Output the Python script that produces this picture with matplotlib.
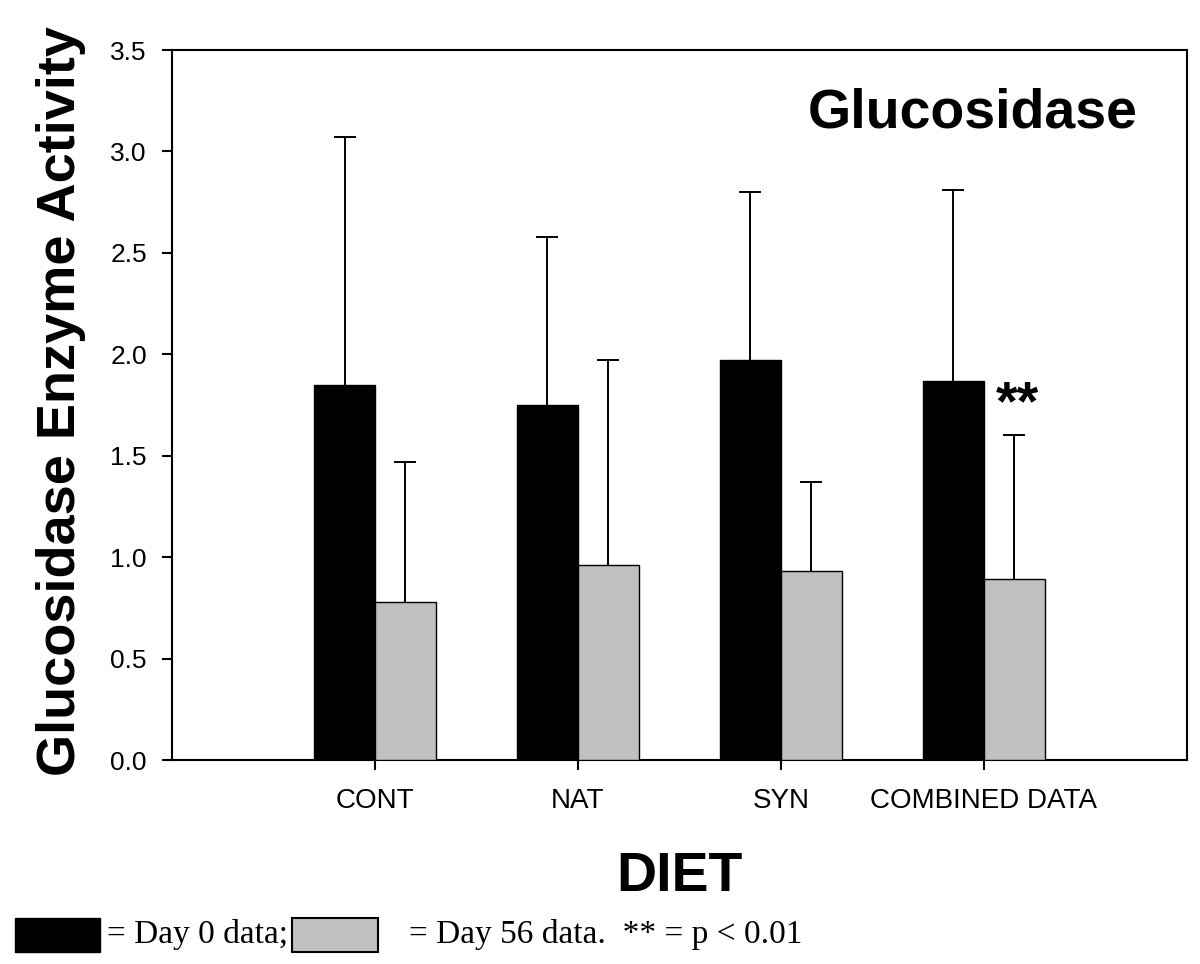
import numpy as np
import matplotlib.pyplot as plt
from matplotlib.patches import Rectangle

# Data
diets = ["CONT", "NAT", "SYN", "COMBINED DATA"]
day0_mean = [1.85, 1.75, 1.97, 1.87]
day0_err = [1.22, 0.83, 0.83, 0.94]
day56_mean = [0.78, 0.96, 0.93, 0.89]
day56_err = [0.69, 1.01, 0.44, 0.71]

plt.rcParams['font.family'] = ['Liberation Sans', 'DejaVu Sans']

fig = plt.figure(figsize=(12, 9.64), dpi=100)
ax = fig.add_axes([0.1433, 0.2116, 0.8458, 0.7365])

x = np.arange(len(diets))
w = 0.3

ax.bar(x - w / 2, day0_mean, w, color="black", edgecolor="black", linewidth=1, zorder=3)
ax.bar(x + w / 2, day56_mean, w, color="#c0c0c0", edgecolor="black", linewidth=1, zorder=3)

# one-sided (upward) error bars, lower caps hidden
for xs, m, e in [(x - w / 2, day0_mean, day0_err), (x + w / 2, day56_mean, day56_err)]:
    eb = ax.errorbar(xs, m, yerr=[np.zeros(len(m)), e], fmt="none",
                     ecolor="black", elinewidth=1.4, capsize=8, capthick=1.4, zorder=2)
    eb[1][0].set_visible(False)

ax.set_xlim(-1, 4)
ax.set_ylim(0, 3.5)
ticks = np.arange(0, 3.51, 0.5)
ax.set_yticks(ticks)
ax.set_yticklabels([f"{v:.1f}" for v in ticks])
ax.set_xticks(x)
ax.set_xticklabels(diets)

for s in ax.spines.values():
    s.set_linewidth(1.5)
ax.tick_params(axis="y", direction="out", length=7, width=1.5, labelsize=19, pad=11)
ax.tick_params(axis="x", direction="out", length=7, width=1.5, labelsize=20, pad=13)

ax.set_ylabel("Glucosidase Enzyme Activity", fontsize=39, fontweight="bold")
ax.yaxis.set_label_coords(-0.085, 0.505)
ax.set_xlabel("DIET", fontsize=40, fontweight="bold", labelpad=27)

ax.text(0.951, 0.911, "Glucosidase", transform=ax.transAxes, ha="right", va="center",
        fontsize=40, fontweight="bold")
ax.text(3.167, 1.68, "**", ha="center", va="baseline", fontsize=40, fontweight="bold")

# legend strip at the bottom
fig.patches.append(Rectangle((15 / 1200, 1 - 952 / 964), 85 / 1200, 34 / 964,
                             transform=fig.transFigure, facecolor="black",
                             edgecolor="black", linewidth=1))
fig.patches.append(Rectangle((292 / 1200, 1 - 952 / 964), 86 / 1200, 34 / 964,
                             transform=fig.transFigure, facecolor="#c0c0c0",
                             edgecolor="black", linewidth=1.5))
fig.text(107 / 1200, 1 - 935 / 964, "= Day 0 data;", ha="left", va="center",
         fontsize=24, family="Liberation Serif")
fig.text(409 / 1200, 1 - 935 / 964, "= Day 56 data.  ** = p < 0.01", ha="left", va="center",
         fontsize=24, family="Liberation Serif")

fig.savefig("out.png", dpi=100)
